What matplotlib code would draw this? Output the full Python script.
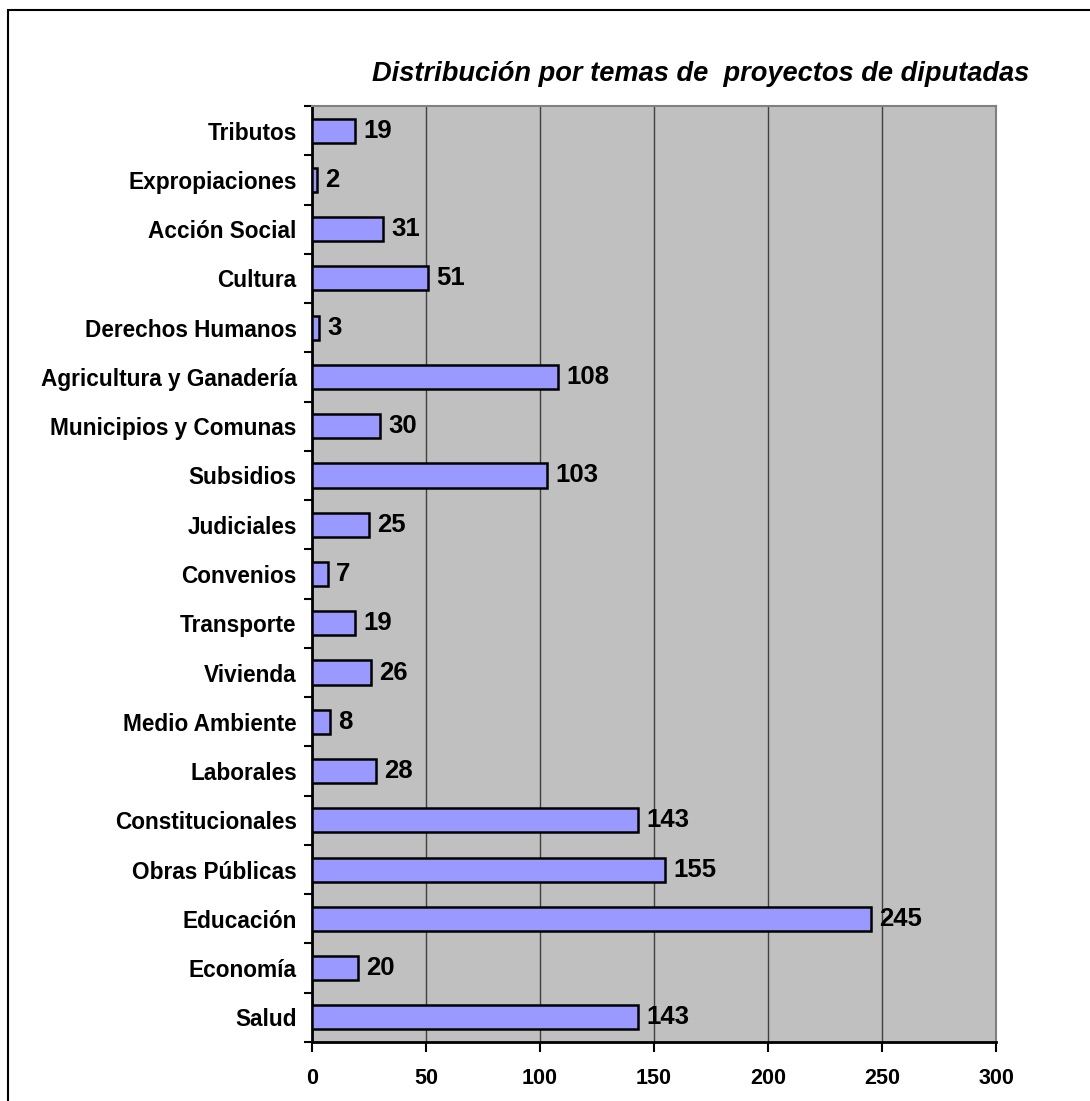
import matplotlib.pyplot as plt
from matplotlib.patches import Rectangle

temas = ["Salud", "Economía", "Educación", "Obras Públicas", "Constitucionales",
         "Laborales", "Medio Ambiente", "Vivienda", "Transporte", "Convenios",
         "Judiciales", "Subsidios", "Municipios y Comunas", "Agricultura y Ganadería",
         "Derechos Humanos", "Cultura", "Acción Social", "Expropiaciones", "Tributos"]
proyectos = [143, 20, 245, 155, 143, 28, 8, 26, 19, 7, 25, 103, 30, 108, 3, 51, 31, 2, 19]
xticks = [0, 50, 100, 150, 200, 250, 300]

plt.rcParams['font.family'] = ['Liberation Sans', 'DejaVu Sans']

fig = plt.figure(figsize=(10.9, 11.01), dpi=100)
fig.patches.append(Rectangle((8 / 1090, -0.1), 1.2, 1 - 10 / 1101 + 0.1,
                             transform=fig.transFigure, fill=False,
                             edgecolor='black', linewidth=1.5))

ax = fig.add_axes([312 / 1090, 1 - 1042 / 1101, 684 / 1090, 936 / 1101])
ax.set_facecolor('#C0C0C0')

y = range(len(temas))
ax.barh(y, proyectos, height=0.49, color='#9999FF', edgecolor='black',
        linewidth=1.8, zorder=3)

for i, v in enumerate(proyectos):
    ax.annotate(str(v), (v, i), xytext=(6, 0), textcoords='offset points',
                va='center', ha='left', fontsize=18.5, fontweight='bold')

ax.set_xlim(0, 300)
ax.set_ylim(-0.5, len(temas) - 0.5)
ax.set_xticks(xticks)
ax.set_xticklabels([str(t) for t in xticks], fontsize=15.5, fontweight='bold')
ax.set_yticks(list(y))
ax.set_yticklabels(temas, fontsize=16.3, fontweight='bold')
ax.set_yticks([i - 0.5 for i in range(len(temas) + 1)], minor=True)
ax.tick_params(axis='y', which='major', length=0, pad=11)
ax.tick_params(axis='y', which='minor', length=6, width=1.5, direction='out')
ax.tick_params(axis='x', length=7, width=1.5, direction='out', pad=12)
ax.xaxis.grid(True, color='#404040', linewidth=1, zorder=0)
ax.set_axisbelow(True)

for side in ['left', 'bottom']:
    ax.spines[side].set_linewidth(2)
for side in ['top', 'right']:
    ax.spines[side].set_color('#808080')
    ax.spines[side].set_linewidth(1.5)

fig.text(701 / 1090, 1 - 74 / 1101, "Distribución por temas de  proyectos de diputadas",
         ha='center', va='center', fontsize=19.6, fontweight='bold', style='italic')

fig.savefig('out.png', dpi=100)
